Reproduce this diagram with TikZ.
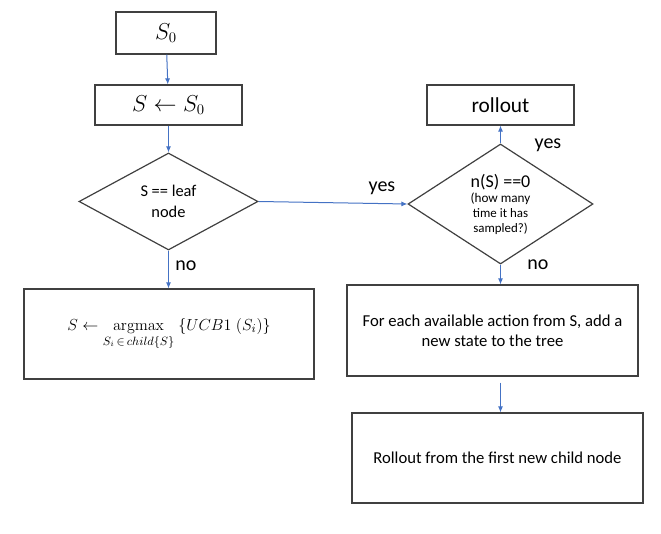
\documentclass[tikz,border=0pt]{standalone}
\usepackage{amsmath}
\usepackage[no-math]{fontspec}
\setmainfont{Carlito}
\usetikzlibrary{shapes.geometric,arrows.meta}

\definecolor{flowblue}{RGB}{68,114,196}
\definecolor{boxgray}{RGB}{64,64,64}

\tikzset{every picture/.style={line width=0.75pt}}
\tikzset{
  stepbox/.style={draw=boxgray,line width=0.9pt,rectangle,inner sep=0pt,align=center,font=\fontsize{12.5}{15}\selectfont},
  testbox/.style={draw=boxgray,line width=0.9pt,diamond,inner sep=0pt,align=center},
  flow/.style={draw=flowblue,line width=0.75pt,-{Latex[length=4.5pt,width=3.8pt]}},
  lbl/.style={inner sep=0pt,font=\fontsize{15}{18}\selectfont}
}

\begin{document}
\begin{tikzpicture}[x=0.75pt,y=0.75pt,yscale=-1,xscale=1]
\useasboundingbox (0,0) rectangle (661,534);

%Shape: Rectangle
\node[stepbox,minimum width=75pt,minimum height=31.5pt,font=\fontsize{16}{18}\selectfont] (start) at (166,33) {$S_0$};
%Shape: Rectangle
\node[stepbox,minimum width=110.25pt,minimum height=30pt,font=\fontsize{16}{18}\selectfont] (init) at (168.5,105) {$S \leftarrow S_0$};
%Shape: Diamond
\node[testbox,minimum width=134.25pt,minimum height=72.75pt,font=\fontsize{12.3}{15.75}\selectfont] (leaf) at (168.5,201.5) {S == leaf\\node};
%Shape: Rectangle
\node[stepbox,minimum width=217.5pt,minimum height=67.5pt,font=\fontsize{13}{15}\selectfont] (select) at (169,334) {$\displaystyle S \leftarrow \operatorname*{argmax}_{S_i \,\in\, child\{S\}}\ \{UCB1\;(S_i)\}$};
%Shape: Diamond
\node[testbox,minimum width=138.75pt,minimum height=73.5pt,font=\fontsize{9.7}{11.25}\selectfont] (visits) at (500.5,204) {\fontsize{13.5}{11.25}\selectfont n(S) ==0\\\fontsize{9.9}{11.25}\selectfont (how many\\time it has\\sampled?)};
%Shape: Rectangle
\node[stepbox,minimum width=110.25pt,minimum height=30pt,font=\fontsize{16}{18}\selectfont] (roll) at (500.5,105) {rollout};
%Shape: Rectangle
\node[stepbox,minimum width=218.25pt,minimum height=68.25pt] (expand) at (492.5,330.5) {For each available action from S, add a\\new state to the tree};
%Shape: Rectangle
\node[stepbox,minimum width=218.25pt,minimum height=67.5pt] (rollnew) at (497.5,458) {Rollout from the first new child node};

%Straight Lines
\draw[flow] (start) -- (init);
\draw[flow] (init.south -| leaf.north) -- (leaf);
\draw[flow] (leaf) -- (select.north -| leaf.south);
\draw[flow] (leaf.east) -- (visits.west);
\draw[flow] (visits) -- (roll);
\draw[flow] (visits) -- (expand.north -| visits.south);
\draw[flow,shorten <=4.5pt] (expand.south -| visits.south) -- (rollnew.north -| visits.south);

% Text Node
\node[lbl] (no1) at (186,266) {no};
% Text Node
\node[lbl] (yes1) at (382,188) {yes};
% Text Node
\node[lbl] (yes2) at (548,145) {yes};
% Text Node
\node[lbl] (no2) at (538,265) {no};

\end{tikzpicture}
\end{document}
